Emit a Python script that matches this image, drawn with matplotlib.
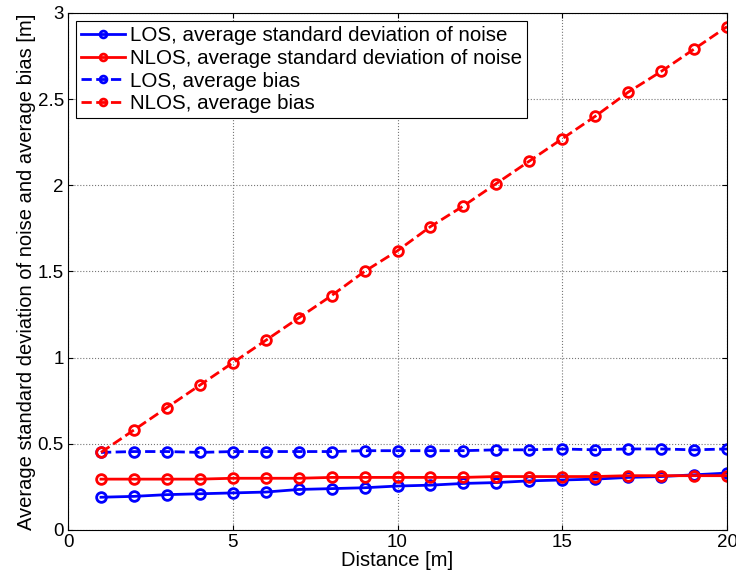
import matplotlib
matplotlib.use("Agg")
import matplotlib.pyplot as plt

plt.rcParams['font.family'] = ['Liberation Sans', 'DejaVu Sans']

distance = list(range(1, 21))
los_std = [0.19, 0.195, 0.205, 0.21, 0.215, 0.22, 0.235, 0.24, 0.245, 0.255,
           0.26, 0.27, 0.275, 0.285, 0.29, 0.295, 0.305, 0.31, 0.32, 0.33]
nlos_std = [0.295, 0.295, 0.295, 0.295, 0.30, 0.30, 0.30, 0.305, 0.305, 0.305,
            0.305, 0.305, 0.31, 0.31, 0.31, 0.31, 0.315, 0.315, 0.315, 0.315]
los_bias = [0.45, 0.455, 0.455, 0.45, 0.455, 0.455, 0.455, 0.455, 0.46, 0.46,
            0.46, 0.46, 0.465, 0.465, 0.47, 0.465, 0.47, 0.47, 0.465, 0.47]
nlos_bias = [0.45, 0.58, 0.71, 0.84, 0.97, 1.10, 1.23, 1.36, 1.50, 1.62,
             1.76, 1.88, 2.01, 2.14, 2.27, 2.40, 2.54, 2.66, 2.79, 2.92]

fig = plt.figure(figsize=(7.36, 5.86), dpi=100)
ax = fig.add_axes([0.0924, 0.0956, 0.8954, 0.8824])

style = dict(lw=2, marker='o', ms=7, mew=2, mfc='none')
ax.plot(distance, los_std, '-', color='b', label='LOS, average standard deviation of noise', **style)
ax.plot(distance, nlos_std, '-', color='r', label='NLOS, average standard deviation of noise', **style)
ax.plot(distance, los_bias, '--', color='b', label='LOS, average bias', **style)
ax.plot(distance, nlos_bias, '--', color='r', label='NLOS, average bias', **style)

ax.set_xlim(0, 20)
ax.set_ylim(0, 3)
ax.set_xticks([0, 5, 10, 15, 20])
ax.set_yticks([0, 0.5, 1, 1.5, 2, 2.5, 3])
ax.set_yticklabels(['0', '0.5', '1', '1.5', '2', '2.5', '3'])
ax.grid(True, linestyle=':', color='#777777', lw=0.8)
ax.tick_params(direction='in', top=True, right=True, labelsize=13.5, pad=3)
ax.set_xlabel('Distance [m]', fontsize=14.5, labelpad=0)
ax.set_ylabel('Average standard deviation of noise and average bias [m]', fontsize=14.5, labelpad=1)

leg = ax.legend(loc='upper left', fontsize=14.8, fancybox=False, framealpha=1,
                edgecolor='k', borderaxespad=0.4, handlelength=2.1,
                handletextpad=0.25, labelspacing=0.18, borderpad=0.25,
                markerscale=0.7)
leg.get_frame().set_linewidth(0.8)

fig.savefig('out.png', dpi=100)
